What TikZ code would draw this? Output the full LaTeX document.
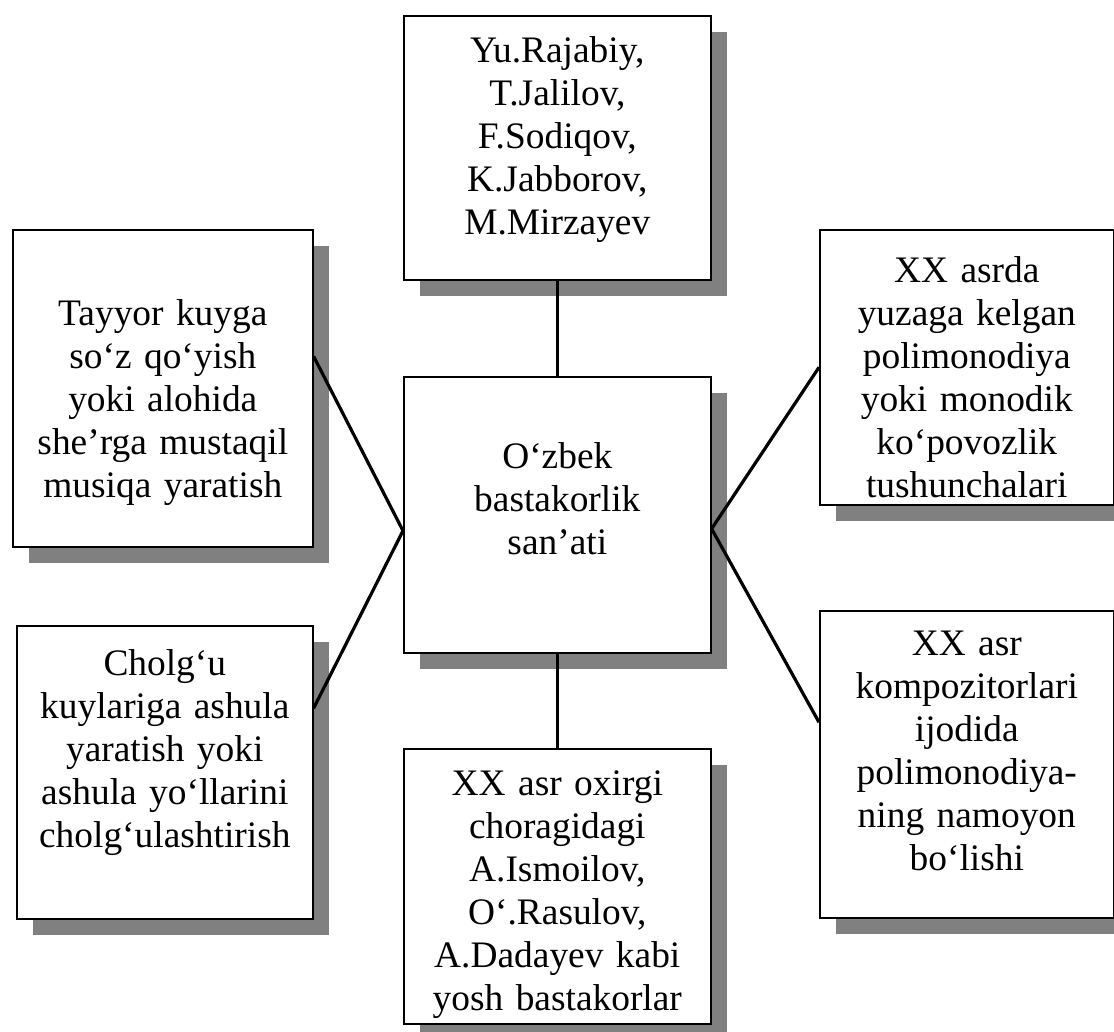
\documentclass[tikz,border=0pt]{standalone}
\usepackage{fontspec}
\setmainfont{Liberation Serif}
\usetikzlibrary{shadows,calc}
\definecolor{shade}{HTML}{808080}
\definecolor{ink}{HTML}{000000}

\begin{document}
\begin{tikzpicture}[x=0.5pt,y=-0.5pt,font=\fontsize{18.7}{21.5}\selectfont,
  card/.style={draw=ink,line width=.8pt,fill=white,anchor=north west,inner sep=0pt,
    drop shadow={shadow xshift=8pt,shadow yshift=-8pt,fill=shade,opacity=1}},
  txt/.style={anchor=north,align=center,text width=140pt,inner sep=0pt,text=ink},
  link/.style={line width=1.6pt,draw=ink}]
\useasboundingbox (0,0) rectangle (1114,1032);
% boxes
\node[card,minimum width=153.5pt,minimum height=132pt] (composers) at (403,15) {};
\node[card,minimum width=153.5pt,minimum height=138pt] (art) at (403,376) {};
\node[card,minimum width=153.5pt,minimum height=137.5pt] (young) at (403,748) {};
\node[card,minimum width=150pt,minimum height=158.5pt] (lyrics) at (12,229) {};
\node[card,minimum width=148pt,minimum height=146.5pt] (songs) at (16,625) {};
\node[card,minimum width=147pt,minimum height=137.5pt] (concepts) at (819,229) {};
\node[card,minimum width=147pt,minimum height=153.5pt] (works) at (819,610) {};
% texts
\node[txt] (composersText) at ([yshift=-10.5pt]composers.north) {Yu.Rajabiy,\\T.Jalilov,\\F.Sodiqov,\\K.Jabborov,\\M.Mirzayev};
\node[txt] (artText) at ([yshift=-33pt]art.north) {O‘zbek\\bastakorlik\\san’ati};
\node[txt] (youngText) at ([yshift=-11pt]young.north) {XX asr oxirgi\\choragidagi\\A.Ismoilov,\\O‘.Rasulov,\\A.Dadayev kabi\\yosh bastakorlar};
\node[txt] (lyricsText) at ([yshift=-35pt]lyrics.north) {Tayyor kuyga\\so‘z qo‘yish\\yoki alohida\\she’rga mustaqil\\musiqa yaratish};
\node[txt] (songsText) at ([yshift=-12pt]songs.north) {Cholg‘u\\kuylariga ashula\\yaratish yoki\\ashula yo‘llarini\\cholg‘ulashtirish};
\node[txt] (conceptsText) at ([yshift=-13.5pt]concepts.north) {XX asrda\\yuzaga kelgan\\polimonodiya\\yoki monodik\\ko‘povozlik\\tushunchalari};
\node[txt] (worksText) at ([yshift=-10.5pt]works.north) {XX asr\\kompozitorlari\\ijodida\\polimonodiya-\\ning namoyon\\bo‘lishi};
% connectors
\coordinate (hubW) at ([yshift=-8pt]art.west);
\coordinate (hubE) at ([yshift=-7pt]art.east);
\draw[link] (composers) -- (art);
\draw[link] (art) -- (young);
\draw[link] ([yshift=16pt]lyrics.east) -- (hubW);
\draw[link] ([yshift=32pt]songs.east) -- (hubW);
\draw[link] (concepts.west) -- (hubE);
\draw[link] ([yshift=21pt]works.west) -- (hubE);
\end{tikzpicture}
\end{document}
